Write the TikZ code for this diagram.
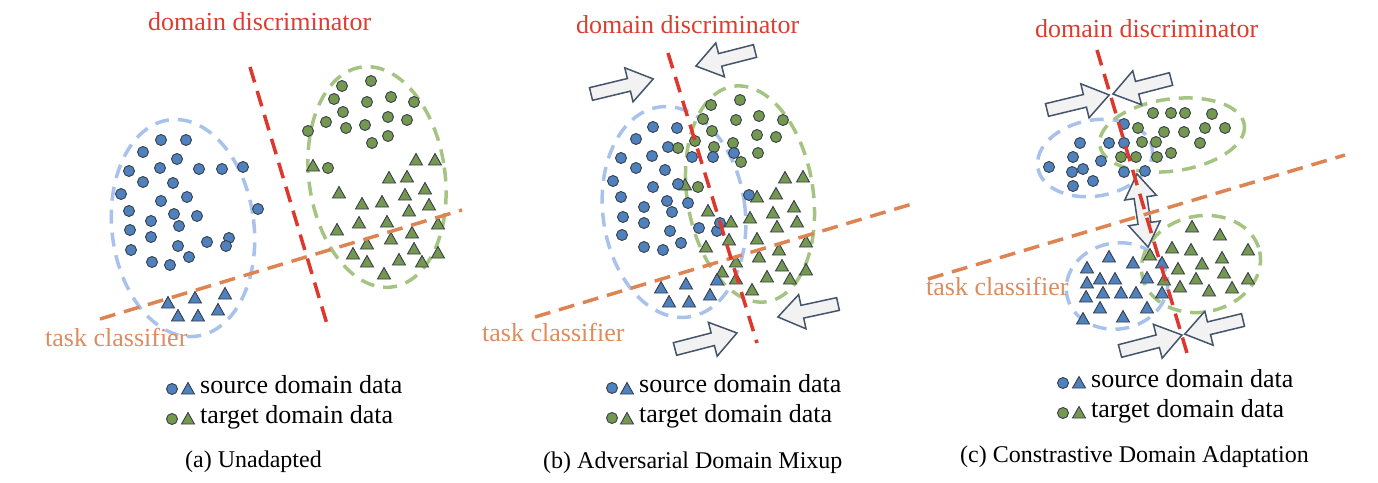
\documentclass[tikz,border=0pt]{standalone}
\usepackage{fontspec}
\setmainfont{Liberation Serif}
\definecolor{bluept}{RGB}{79,129,189}
\definecolor{greenpt}{RGB}{117,152,80}
\definecolor{ptline}{RGB}{55,62,75}
\definecolor{blueell}{RGB}{168,194,236}
\definecolor{greenell}{RGB}{165,196,130}
\definecolor{redl}{RGB}{222,55,45}
\definecolor{orangel}{RGB}{221,132,82}
\definecolor{redtext}{RGB}{220,60,50}
\definecolor{orangetext}{RGB}{221,140,95}
\definecolor{arrowfill}{RGB}{242,242,242}
\definecolor{arrowline}{RGB}{68,84,106}
\tikzset{
  bpt/.style={fill=bluept, draw=ptline, line width=0.9pt},
  gpt/.style={fill=greenpt, draw=ptline, line width=0.9pt},
  bell/.style={draw=blueell, line width=3.5pt, dash pattern=on 14pt off 9pt},
  gell/.style={draw=greenell, line width=3.5pt, dash pattern=on 14pt off 9pt},
  redline/.style={draw=redl, line width=3.5pt, dash pattern=on 16pt off 9pt},
  orline/.style={draw=orangel, line width=3.5pt, dash pattern=on 16pt off 9pt},
  blockarr/.style={fill=arrowfill, draw=arrowline, line width=1.5pt, line join=miter},
  lbl/.style={inner sep=0pt, anchor=base west, font=\fontsize{26}{30}\selectfont},
  capt/.style={inner sep=0pt, anchor=base west, font=\fontsize{24}{28}\selectfont},
}
\newcommand\mycirc[3]{\draw[#3] (#1,#2) circle[radius=5.5];}
\newcommand\mytri[3]{\draw[#3] (#1-6.5,#2+5) -- (#1+6.5,#2+5) -- (#1,#2-6.5) -- cycle;}
\newcommand\barrow[4]{%
  \begin{scope}[shift={(#1,#2)}, rotate=#3]
    \draw[blockarr] (0,-6.5) -- (#4-25,-6.5) -- (#4-25,-17.5) -- (#4,0) -- (#4-25,17.5) -- (#4-25,6.5) -- (0,6.5) -- cycle;
  \end{scope}}
\newcommand\dbarrow[4]{%
  \begin{scope}[shift={(#1,#2)}, rotate=#3]
    \draw[blockarr] (-#4/2,0) -- (-#4/2+24,16) -- (-#4/2+24,6.5) -- (#4/2-24,6.5) -- (#4/2-24,16) -- (#4/2,0) -- (#4/2-24,-16) -- (#4/2-24,-6.5) -- (-#4/2+24,-6.5) -- (-#4/2+24,-16) -- cycle;
  \end{scope}}
\begin{document}
\begin{tikzpicture}[x=1pt,y=-1pt]
\useasboundingbox (0,0) rectangle (1378,482);
% ================= (a) =================
\draw[bell, rotate around={7:(183,228)}] (183,228) ellipse [x radius=71, y radius=109];
\draw[gell, rotate around={8:(377,177)}] (377,177) ellipse [x radius=68, y radius=111];
\foreach \x/\y in {161/140,186/140,143/152,177/159,129/171,160/168,199/169,222/169,243/167,143/182,173/183,121/194,161/201,187/197,129/211,174/214,197/216,151/221,179/226,258/209,130/230,151/237,178/246,207/242,229/238,226/246,131/250,152/262,170/265,189/257}
  {\mycirc{\x}{\y}{bpt}}
\foreach \x/\y in {168/303,195/298,225/294,178/316,198/316,218/310}
  {\mytri{\x}{\y}{bpt}}
\foreach \x/\y in {342/86,371/81,334/99,367/102,391/97,414/102,343/112,326/122,346/128,365/125,388/117,407/120,308/131,372/143,388/136,328/168}
  {\mycirc{\x}{\y}{gpt}}
\foreach \x/\y in {313/166,416/160,435/160,389/178,407/177,339/193,425/189,362/204,382/202,405/195,409/211,429/205,359/223,387/222,337/230,438/224,412/233,391/239,367/244,414/249,353/254,438/253,367/262,399/260,422/262,384/274}
  {\mytri{\x}{\y}{gpt}}
\coordinate (oa1) at (100,319); \coordinate (oa2) at (462,210);
\coordinate (ra1) at (250,67); \coordinate (ra2) at (327,324);
\draw[orline] (oa1) -- (oa2);
\draw[redline] (ra1) -- (ra2);
\node[lbl, text=redtext] (dda) at (148,30) {domain discriminator};
\node[lbl, text=orangetext] (tca) at (45,346) {task classifier};
\mycirc{172}{389}{bpt} \mytri{188}{389}{bpt}
\mycirc{172}{419}{gpt} \mytri{188}{419}{gpt}
\node[lbl] (sa) at (200,393) {source domain data};
\node[lbl] (ta) at (200,423) {target domain data};
\node[capt] (capa) at (185,467) {(a) Unadapted};
% ================= (b) =================
\draw[bell, rotate around={8:(674,212)}] (674,212) ellipse [x radius=71, y radius=106];
\draw[gell, rotate around={9:(750,194)}] (750,194) ellipse [x radius=63, y radius=109];
\foreach \x/\y in {711/105,740/100,703/119,736/120,759/116,783/120,712/131,695/141,714/147,733/143,757/135,776/137,678/148,741/162,758/153,698/187}
  {\mycirc{\x}{\y}{gpt}}
\foreach \x/\y in {685/185,785/178,803/177,757/197,776/194,708/211,794/207,731/222,750/218,773/213,777/227,797/222,729/240,757/239,706/247,806/242,779/250,759/257,736/262,782/266,722/272,806/270,736/279,767/277,790/279,752/290}
  {\mytri{\x}{\y}{gpt}}
\foreach \x/\y in {653/127,677/128,636/139,668/147,621/158,652/156,692/157,713/157,734/153,636/168,665/170,613/181,653/187,678/184,621/197,644/207,667/201,688/203,623/217,644/223,672/212,670/231,699/228,717/231,720/223,622/235,644/247,663/250,681/243,749/195}
  {\mycirc{\x}{\y}{bpt}}
\foreach \x/\y in {661/288,686/284,717/280,669/302,689/302,710/295}
  {\mytri{\x}{\y}{bpt}}
\barrow{591}{94}{13.6}{64}
\barrow{755}{51}{194.3}{61}
\barrow{838}{304}{192.2}{61.5}
\barrow{675}{349}{14.5}{64}
\coordinate (ob1) at (535,317); \coordinate (ob2) at (912,204);
\coordinate (rb1) at (668,53); \coordinate (rb2) at (757,343);
\draw[orline] (ob1) -- (ob2);
\draw[redline] (rb1) -- (rb2);
\node[lbl, text=redtext] (ddb) at (576,33) {domain discriminator};
\node[lbl, text=orangetext] (tcb) at (482,341) {task classifier};
\mycirc{612}{388}{bpt} \mytri{627}{389}{bpt}
\mycirc{612}{418}{gpt} \mytri{627}{419}{gpt}
\node[lbl] (sb) at (639,392) {source domain data};
\node[lbl] (tb) at (639,422) {target domain data};
\node[capt] (capb) at (543,468) {(b) Adversarial Domain Mixup};
% ================= (c) =================
\draw[bell, rotate around={10:(1095,158)}] (1095,158) ellipse [x radius=58, y radius=38];
\draw[gell, rotate around={8:(1172,135)}] (1172,135) ellipse [x radius=73, y radius=36];
\draw[bell, rotate around={10:(1117,286)}] (1117,286) ellipse [x radius=51, y radius=43];
\draw[gell, rotate around={12:(1201,264)}] (1201,264) ellipse [x radius=60, y radius=48];
\foreach \x/\y in {1153/113,1171/113,1185/113,1212/114,1138/128,1164/132,1184/132,1205/128,1225/128,1142/142,1156/142,1200/143,1121/157,1136/157,1157/157,1171/153}
  {\mycirc{\x}{\y}{gpt}}
\foreach \x/\y in {1124/124,1080/143,1109/143,1124/143,1073/157,1101/161,1049/167,1072/172,1083/169,1093/181,1073/186,1124/172,1145/171}
  {\mycirc{\x}{\y}{bpt}}
\foreach \x/\y in {1192/227,1220/235,1172/248,1191/250,1150/255,1222/258,1248/250,1202/264,1178/269,1224/273,1196/279,1164/280,1248/279,1180/287,1209/291,1232/288}
  {\mytri{\x}{\y}{gpt}}
\foreach \x/\y in {1109/257,1087/268,1133/263,1162/263,1087/283,1100/279,1115/279,1147/278,1086/297,1103/293,1121/293,1136/293,1162/293,1100/308,1147/308,1083/319,1123/317}
  {\mytri{\x}{\y}{bpt}}
\barrow{1047}{110}{13.6}{64}
\barrow{1171}{79}{194.5}{60}
\barrow{1120}{351}{14.5}{64}
\barrow{1243}{320}{193.6}{60}
\dbarrow{1142.5}{210.5}{-81.4}{74}
\coordinate (oc1) at (928,279); \coordinate (oc2) at (1345,155);
\coordinate (rc1) at (1097,50); \coordinate (rc2) at (1187,353);
\draw[orline] (oc1) -- (oc2);
\draw[redline] (rc1) -- (rc2);
\node[lbl, text=redtext] (ddc) at (1035,37) {domain discriminator};
\node[lbl, text=orangetext] (tcc) at (926,295) {task classifier};
\mycirc{1063}{383}{bpt} \mytri{1079}{383}{bpt}
\mycirc{1063}{413}{gpt} \mytri{1079}{413}{gpt}
\node[lbl] (sc) at (1091,387) {source domain data};
\node[lbl] (tc) at (1091,417) {target domain data};
\node[capt] (capc) at (960,462) {(c) Constrastive Domain Adaptation};
\end{tikzpicture}
\end{document}
